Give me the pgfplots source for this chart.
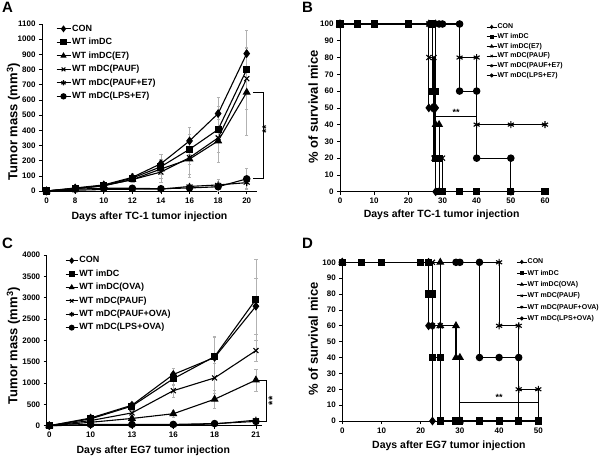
\documentclass[border=0pt]{standalone}
\usepackage{fontspec}
\setmainfont{Liberation Sans}
\usepackage{pgfplots}
\pgfplotsset{compat=1.18}
\newcommand{\fs}[1]{\fontsize{#1}{#1}\selectfont\bfseries}
\pgfplotsset{
  panel/.style={
    scale only axis, clip=false,
    axis x line*=bottom, axis y line*=left,
    axis line style={line width=0.8pt, black},
    tick align=outside, major tick length=3pt,
    tick style={black, line width=0.6pt},
    ticklabel style={font=\fs{8}},
    /pgf/number format/assume math mode=true,
    /pgf/number format/1000 sep={},
    every axis plot/.append style={black, line width=1.1pt, mark options={solid, fill=black}},
    legend style={draw=none, fill=none, anchor=north west},
    legend cell align=left,
  },
  sCON/.style={mark=diamond*, mark size=3.6pt},
  sIM/.style={mark=square*, mark size=3pt},
  sAG/.style={mark=triangle*, mark size=3.6pt},
  sPA/.style={mark=x, mark size=3.5pt},
  sPE/.style={mark=asterisk, mark size=3.5pt},
  sLP/.style={mark=*, mark size=3.2pt},
  eb/.style={error bars/.cd, y dir=both, y explicit,
    error bar style={gray!60, line width=0.5pt},
    error mark options={gray!60, line width=0.5pt, mark size=1.6pt, rotate=90}},
}
\begin{document}
\begin{tikzpicture}
\useasboundingbox (0,0) rectangle (600pt,459pt);
% ---------------- Panel A ----------------
\begin{axis}[panel, at={(42pt,268pt)}, anchor=south west,
  width=215pt, height=167pt,
  xmin=-0.16, xmax=7.36, ymin=0, ymax=1100,
  xtick={0,...,7}, xticklabels={0,8,10,12,14,16,18,20},
  ytick={0,100,...,1100},
  xlabel={Days after TC-1 tumor injection},
  ylabel={Tumor mass (mm\textsuperscript{3})},
  xlabel style={at={(axis description cs:0.5,-0.152)}, anchor=center, font=\fs{10.5}},
  ylabel style={at={(axis description cs:-0.133,0.415)}, anchor=center, font=\fs{13}},
  legend style={at={(axis description cs:0.05,1.015)}, font=\fs{9},
    row sep=3.2pt, nodes={inner sep=1pt, text height=6.5pt, text depth=1.8pt}},
  legend image code/.code={\draw[mark repeat=2,mark phase=2,#1] plot coordinates {(0pt,0pt)(7pt,0pt)(14pt,0pt)};},
  legend image post style={mark size=2.6pt},
]
\addplot[sCON, eb] table[x=x,y=y,y error=e] {
x y e
0 0 0
1 20 5
2 40 8
3 90 25
4 180 60
5 330 90
6 510 110
7 905 155
};
\addplot[sIM, eb] table[x=x,y=y,y error=e] {
x y e
0 0 0
1 18 5
2 35 8
3 85 20
4 160 50
5 275 100
6 405 150
7 800 150
};
\addplot[sAG, eb] table[x=x,y=y,y error=e] {
x y e
0 0 0
1 15 5
2 35 8
3 75 20
4 145 60
5 210 120
6 330 140
7 650 280
};
\addplot[sPA, eb] table[x=x,y=y,y error=e] {
x y e
0 0 0
1 15 5
2 35 8
3 75 20
4 125 70
5 220 110
6 350 160
7 740 200
};
\addplot[sPE, eb] table[x=x,y=y,y error=e] {
x y e
0 0 0
1 5 3
2 10 5
3 12 5
4 12 5
5 30 15
6 40 40
7 55 40
};
\addplot[sLP, eb] table[x=x,y=y,y error=e] {
x y e
0 0 0
1 12 3
2 18 5
3 18 5
4 15 5
5 20 15
6 28 30
7 80 70
};
\legend{CON, WT imDC, WT imDC(E7), WT mDC(PAUF), WT mDC(PAUF+E7), WT mDC(LPS+E7)}
\draw[line width=0.8pt] (axis cs:7.22,650) -- (axis cs:7.57,650) -- (axis cs:7.57,80) -- (axis cs:7.22,80);
\node[rotate=90, font=\fs{11}] at (axis cs:7.68,408) {**};
\end{axis}
% ---------------- Panel B ----------------
\begin{axis}[panel, at={(340pt,267.3pt)}, anchor=south west,
  width=205pt, height=167.7pt,
  xmin=0, xmax=60, ymin=0, ymax=100,
  xtick={0,10,...,60}, ytick={0,10,...,100},
  xlabel={Days after TC-1 tumor injection},
  ylabel={\% of survival mice},
  xlabel style={at={(axis description cs:0.496,-0.135)}, anchor=center, font=\fs{10.5}},
  ylabel style={at={(axis description cs:-0.130,0.507)}, anchor=center, font=\fs{13}},
  legend style={at={(axis description cs:0.698,1.018)}, font=\fs{7},
    row sep=2.2pt, nodes={inner sep=0.5pt, text height=5.2pt, text depth=1.3pt}},
  legend image code/.code={\draw[mark repeat=2,mark phase=2,#1] plot coordinates {(0pt,0pt)(5pt,0pt)(10pt,0pt)};},
  legend image post style={mark size=1.6pt, line width=0.8pt},
]
\addplot[sCON] coordinates {(0,100)(26,100)(26,50)(27,50)(28,50)(28,0)};
\addplot[sIM] coordinates {(0,100)(5,100)(10,100)(20,100)(27,100)(27,60)(28,60)(28,20)(29,20)(29,0)(30,0)(35,0)(40,0)(50,0)(60,0)};
\addplot[sAG] coordinates {(0,100)(28,100)(28,40)(29,40)(29,0)};
\addplot[sPA] coordinates {(0,100)(26,100)(26,80)(27.5,80)(27.5,20)(30,20)(30,0)};
\addplot[sPE] coordinates {(0,100)(35,100)(35,80)(40,80)(40,40)(50,40)(60,40)};
\addplot[sLP] coordinates {(0,100)(29,100)(30,100)(35,100)(35,60)(40,60)(40,20)(50,20)(50,0)};
\legend{CON, WT imDC, WT imDC(E7), WT mDC(PAUF), WT mDC(PAUF+E7), WT mDC(LPS+E7)}
\draw[line width=0.8pt] (axis cs:28,45) -- (axis cs:40,45);
\node[anchor=south, font=\fs{9}, inner sep=1pt] at (axis cs:34,45) {**};
\end{axis}
% ---------------- Panel C ----------------
\begin{axis}[panel, at={(46.7pt,33.3pt)}, anchor=south west,
  width=215pt, height=170.7pt,
  xmin=-0.063, xmax=5.14, ymin=0, ymax=4000,
  xtick={0,...,5}, xticklabels={0,10,13,16,18,21},
  ytick={0,500,...,4000},
  xlabel={Days after EG7 tumor injection},
  ylabel={Tumor mass (mm\textsuperscript{3})},
  xlabel style={at={(axis description cs:0.496,-0.146)}, anchor=center, font=\fs{10.5}},
  ylabel style={at={(axis description cs:-0.155,0.469)}, anchor=center, font=\fs{13}},
  legend style={at={(axis description cs:0.071,1.01)}, font=\fs{9},
    row sep=3.1pt, nodes={inner sep=1pt, text height=6.5pt, text depth=1.8pt}},
  legend image code/.code={\draw[mark repeat=2,mark phase=2,#1] plot coordinates {(0pt,0pt)(6pt,0pt)(12pt,0pt)};},
  legend image post style={mark size=2.4pt},
]
\addplot[sCON, eb] table[x=x,y=y,y error=e] {
x y e
0 0 0
1 180 30
2 480 80
3 1200 150
4 1600 480
5 2800 650
};
\addplot[sIM, eb] table[x=x,y=y,y error=e] {
x y e
0 0 0
1 160 30
2 460 100
3 1100 150
4 1620 480
5 2960 950
};
\addplot[sAG, eb] table[x=x,y=y,y error=e] {
x y e
0 0 0
1 80 20
2 170 50
3 280 80
4 620 200
5 1070 260
};
\addplot[sPA, eb] table[x=x,y=y,y error=e] {
x y e
0 0 0
1 120 30
2 300 80
3 820 150
4 1120 350
5 1760 250
};
\addplot[sPE, eb] table[x=x,y=y,y error=e] {
x y e
0 0 0
1 20 10
2 20 10
3 20 10
4 40 20
5 130 50
};
\addplot[sLP, eb] table[x=x,y=y,y error=e] {
x y e
0 0 0
1 30 10
2 30 10
3 30 10
4 50 20
5 100 40
};
\legend{CON, WT imDC, WT imDC(OVA), WT mDC(PAUF), WT mDC(PAUF+OVA), WT mDC(LPS+OVA)}
\draw[line width=0.8pt] (axis cs:5.06,1070) -- (axis cs:5.26,1070) -- (axis cs:5.26,110) -- (axis cs:5.06,110);
\node[rotate=90, font=\fs{11}] at (axis cs:5.40,580) {**};
\end{axis}
% ---------------- Panel D ----------------
\begin{axis}[panel, at={(342.3pt,38pt)}, anchor=south west,
  width=196pt, height=158.7pt,
  xmin=0, xmax=50, ymin=0, ymax=100,
  xtick={0,10,...,50}, ytick={0,10,...,100},
  xlabel={Days after EG7 tumor injection},
  ylabel={\% of survival mice},
  xlabel style={at={(axis description cs:0.544,-0.158)}, anchor=center, font=\fs{10.5}},
  ylabel style={at={(axis description cs:-0.148,0.517)}, anchor=center, font=\fs{13}},
  legend style={at={(axis description cs:0.872,1.04)}, font=\fs{7},
    row sep=3.8pt, nodes={inner sep=0.5pt, text height=5.2pt, text depth=1.3pt}},
  legend image code/.code={\draw[mark repeat=2,mark phase=2,#1] plot coordinates {(0pt,0pt)(5pt,0pt)(10pt,0pt)};},
  legend image post style={mark size=1.6pt, line width=0.8pt},
  every axis plot/.append style={mark size=2.8pt},
]
\addplot[sCON] coordinates {(0,100)(22,100)(22,60)(23,60)(23,0)};
\addplot[sIM] coordinates {(0,100)(5,100)(10,100)(20,100)(22,100)(22,80)(23,80)(23,40)(25,40)(25,0)(29,0)(30,0)(35,0)(40,0)(45,0)(50,0)};
\addplot[sAG] coordinates {(0,100)(25,100)(25,60)(29,60)(29,40)(30,40)(30,0)};
\addplot[sPA] coordinates {(0,100)(23,100)(23,60)(25,60)(25,0)};
\addplot[sPE] coordinates {(0,100)(40,100)(40,60)(45,60)(45,20)(50,20)(50,0)};
\addplot[sLP] coordinates {(0,100)(29,100)(30,100)(35,100)(35,40)(40,40)(45,40)(45,0)};
\legend{CON, WT imDC, WT imDC(OVA), WT mDC(PAUF), WT mDC(PAUF+OVA), WT mDC(LPS+OVA)}
\draw[line width=0.8pt] (axis cs:30,12) -- (axis cs:50,12);
\node[anchor=south, font=\fs{9}, inner sep=1pt] at (axis cs:40,12) {**};
\end{axis}
\node[font=\fs{15}] at (7.5pt,451.5pt) {A};
\node[font=\fs{15}] at (307.5pt,451.5pt) {B};
\node[font=\fs{15}] at (7.5pt,216pt) {C};
\node[font=\fs{15}] at (307.5pt,216pt) {D};
\end{tikzpicture}
\end{document}
